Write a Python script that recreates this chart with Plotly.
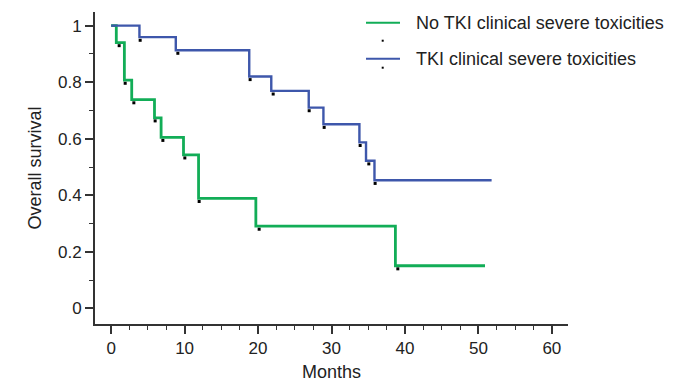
import plotly.graph_objects as go

# Kaplan-Meier step data (months, survival)
no_tki_t = [0, 0.7, 1.8, 2.8, 5.9, 6.8, 9.85, 11.9, 19.7, 38.7, 50.9]
no_tki_s = [1.0, 0.94, 0.807, 0.738, 0.674, 0.605, 0.543, 0.389, 0.291, 0.151, 0.151]
no_tki_mark_t = [1.09, 1.91, 3.09, 5.99, 7.04, 10.03, 11.98, 20.15, 39.03]
no_tki_mark_s = [0.94, 0.807, 0.738, 0.674, 0.605, 0.543, 0.389, 0.291, 0.151]

tki_t = [0, 3.85, 8.8, 18.8, 21.8, 26.9, 28.9, 33.8, 34.7, 35.85, 51.8]
tki_s = [1.0, 0.959, 0.913, 0.82, 0.769, 0.71, 0.651, 0.587, 0.522, 0.453, 0.453]
tki_mark_t = [3.95, 9.08, 18.92, 22.06, 26.96, 29.0, 33.9, 35.08, 35.94]
tki_mark_s = [0.959, 0.913, 0.82, 0.769, 0.71, 0.651, 0.587, 0.522, 0.453]

series_names = ["No TKI clinical severe toxicities", "TKI clinical severe toxicities"]
x_ticks = [0, 10, 20, 30, 40, 50, 60]
y_ticks = [0, 0.2, 0.4, 0.6, 0.8, 1.0]
y_tick_labels = ["0", "0.2", "0.4", "0.6", "0.8", "1"]

GREEN = "#12ad57"
BLUE = "#3e57ab"
AXIS = "#333333"
FONT = "Liberation Sans, Arial, Helvetica, sans-serif"

# page has an 8px body margin; layout is given in window pixels and shifted by it
PAGE = 8
FW, FH = 685 - PAGE, 384 - PAGE
L, R, T, B = 95, 568, 12, 324  # plot area in window pixels
W, H = R - L, B - T

fig = go.Figure()
fig.add_trace(go.Scatter(x=no_tki_t, y=no_tki_s, mode="lines", line=dict(shape="hv", color=GREEN, width=2.8),
                         name=series_names[0], showlegend=False))
fig.add_trace(go.Scatter(x=tki_t, y=tki_s, mode="lines", line=dict(shape="hv", color=BLUE, width=2.4),
                         name=series_names[1], showlegend=False))
off = 0.011
fig.add_trace(go.Scatter(x=no_tki_mark_t, y=[v - off for v in no_tki_mark_s], mode="markers",
                         marker=dict(symbol="square", size=3, color="black"), showlegend=False))
fig.add_trace(go.Scatter(x=tki_mark_t, y=[v - off for v in tki_mark_s], mode="markers",
                         marker=dict(symbol="square", size=3, color="black"), showlegend=False))

def px(x):
    return (x - L) / W
def py(y):
    return (B - y) / H

shapes = []
for yy, col in [(22.7, GREEN), (58.7, BLUE)]:
    shapes.append(dict(type="line", xref="paper", yref="paper", x0=px(366), x1=px(400), y0=py(yy), y1=py(yy),
                       line=dict(color=col, width=2)))
for yy in [40.7, 67.7]:
    shapes.append(dict(type="rect", xref="paper", yref="paper", x0=px(381.7), x1=px(383.7), y0=py(yy + 1), y1=py(yy - 1),
                       line=dict(width=0), fillcolor="black"))
annotations = []
for yy, name in [(22.7, series_names[0]), (58.7, series_names[1])]:
    annotations.append(dict(xref="paper", yref="paper", x=px(414), y=py(yy), xanchor="left", yanchor="middle",
                            text=name, showarrow=False, font=dict(family=FONT, size=18, color="#222222")))

fig.update_layout(
    width=FW, height=FH,
    margin=dict(l=L - PAGE, r=FW - (R - PAGE), t=T - PAGE, b=FH - (B - PAGE), autoexpand=False),
    paper_bgcolor="white", plot_bgcolor="white",
    font=dict(family=FONT, size=17, color="#222222"),
    shapes=shapes, annotations=annotations,
    showlegend=False,
)
fig.update_xaxes(
    range=[-2.2, 62.2], tickvals=x_ticks, ticks="outside", ticklen=8, tickwidth=1.5, tickcolor=AXIS,
    showline=True, linewidth=2, linecolor=AXIS, showgrid=False, zeroline=False, automargin=False,
    minor=dict(dtick=2.5, tick0=0, ticks="outside", ticklen=4, tickwidth=1.2, tickcolor=AXIS, showgrid=False),
    title=dict(text="Months", font=dict(size=18), standoff=8),
    tickfont=dict(size=17),
)
fig.update_yaxes(
    range=[-0.055, 1.048], tickvals=y_ticks, ticktext=y_tick_labels, ticks="outside", ticklen=8, tickwidth=1.5,
    tickcolor=AXIS, showline=True, linewidth=2, linecolor=AXIS, showgrid=False, zeroline=False, automargin=False,
    minor=dict(dtick=0.1, tick0=0, ticks="outside", ticklen=4, tickwidth=1.2, tickcolor=AXIS, showgrid=False),
    title=dict(text="Overall survival", font=dict(size=18), standoff=12),
    tickfont=dict(size=17),
)

fig.write_html("out.html")
